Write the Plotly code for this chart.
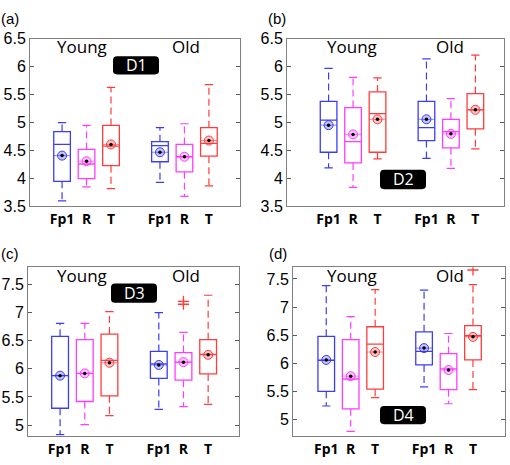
import plotly.graph_objects as go

# ---------------- data ----------------
POS = [1, 2, 3, 5, 6, 7]
CHANNELS = ["Fp1", "R", "T", "Fp1", "R", "T"]
GROUPS = ["Young", "Old"]
PANEL_LETTERS = ["(a)", "(b)", "(c)", "(d)"]
PANEL_TAGS = ["D1", "D2", "D3", "D4"]

D1_low = [3.60, 3.85, 3.82, 3.93, 3.68, 3.87]
D1_q1 = [3.95, 4.00, 4.23, 4.30, 4.12, 4.40]
D1_med = [4.61, 4.26, 4.58, 4.59, 4.39, 4.63]
D1_q3 = [4.84, 4.52, 4.95, 4.66, 4.61, 4.91]
D1_high = [5.00, 4.95, 5.63, 4.91, 4.98, 5.68]
D1_mean = [4.41, 4.31, 4.61, 4.47, 4.39, 4.68]
D1_out_x = []
D1_out_y = []

D2_low = [4.19, 3.84, 4.35, 4.36, 4.18, 4.53]
D2_q1 = [4.47, 4.28, 4.47, 4.68, 4.55, 4.89]
D2_med = [5.045, 4.66, 5.16, 4.91, 4.84, 5.23]
D2_q3 = [5.38, 5.27, 5.55, 5.38, 5.06, 5.52]
D2_high = [5.97, 5.81, 5.80, 6.14, 5.43, 6.21]
D2_mean = [4.955, 4.79, 5.06, 5.06, 4.80, 5.23]
D2_out_x = []
D2_out_y = []

D3_low = [4.83, 5.01, 5.17, 5.28, 5.33, 5.37]
D3_q1 = [5.30, 5.42, 5.52, 5.83, 5.80, 5.91]
D3_med = [5.88, 5.92, 6.15, 6.09, 6.12, 6.26]
D3_q3 = [6.58, 6.52, 6.62, 6.31, 6.29, 6.52]
D3_high = [6.81, 6.81, 7.02, 7.00, 6.65, 7.31]
D3_mean = [5.88, 5.92, 6.11, 6.07, 6.12, 6.25]
D3_out_x = [6, 6]
D3_out_y = [7.20, 7.15]

D4_low = [5.24, 4.79, 5.39, 5.58, 5.28, 5.53]
D4_q1 = [5.50, 5.19, 5.54, 5.97, 5.53, 6.06]
D4_med = [6.05, 5.72, 6.34, 6.21, 5.90, 6.49]
D4_q3 = [6.48, 6.42, 6.65, 6.56, 6.17, 6.67]
D4_high = [7.38, 6.83, 7.31, 7.30, 6.53, 7.40]
D4_mean = [6.06, 5.77, 6.20, 6.27, 5.88, 6.47]
D4_out_x = [7]
D4_out_y = [7.66]

Y_TICKS_TOP = [3.5, 4, 4.5, 5, 5.5, 6, 6.5]
Y_TICKS_BOTTOM = [5, 5.5, 6, 6.5, 7, 7.5]

# ---------------- styles ----------------
W, H = 510, 465
COLORS = {"Fp1": "rgb(60,60,245)", "R": "rgb(255,60,255)", "T": "rgb(255,60,60)"}
FILLS = {"Fp1": "rgba(60,60,245,0.3)", "R": "rgba(255,60,255,0.3)", "T": "rgba(255,60,60,0.3)"}
BOX_W = 0.68
CAP_W = 0.34

panels = [
    dict(low=D1_low, q1=D1_q1, med=D1_med, q3=D1_q3, high=D1_high, mean=D1_mean,
         ox=D1_out_x, oy=D1_out_y, px=(30, 240), py=(32, 206), xr=[-0.31, 8.27], yr=[3.5, 6.5],
         yt=Y_TICKS_TOP, tag_box=(113, 159, 50, 69), young_x=82, old_x=186, txt_y=40, letter=(10, 11)),
    dict(low=D2_low, q1=D2_q1, med=D2_med, q3=D2_q3, high=D2_high, mean=D2_mean,
         ox=D2_out_x, oy=D2_out_y, px=(287, 504), py=(32, 206), xr=[-0.70, 8.17], yr=[3.5, 6.5],
         yt=Y_TICKS_TOP, tag_box=(380, 426, 168, 188), young_x=352, old_x=450, txt_y=40, letter=(277, 11)),
    dict(low=D3_low, q1=D3_q1, med=D3_med, q3=D3_q3, high=D3_high, mean=D3_mean,
         ox=D3_out_x, oy=D3_out_y, px=(28, 239), py=(269, 444), xr=[-0.30, 8.25], yr=[4.81, 7.81],
         yt=Y_TICKS_BOTTOM, tag_box=(111, 157, 286, 306), young_x=82, old_x=186, txt_y=278, letter=(10, 255)),
    dict(low=D4_low, q1=D4_q1, med=D4_med, q3=D4_q3, high=D4_high, mean=D4_mean,
         ox=D4_out_x, oy=D4_out_y, px=(293, 505), py=(269, 444), xr=[-0.36, 8.31], yr=[4.71, 7.71],
         yt=Y_TICKS_BOTTOM, tag_box=(380, 426, 413, 432), young_x=352, old_x=450, txt_y=278, letter=(278, 255)),
]

fig = go.Figure()
layout = dict(
    width=W, height=H, margin=dict(l=0, r=0, t=0, b=0),
    paper_bgcolor="white", plot_bgcolor="white", showlegend=False,
    boxmode="overlay",
)
annotations = []
shapes = []

def fx(p):
    return p / W

def fy(p):
    return 1 - p / H

def rounded_rect(x0, x1, y0, y1, r):
    X0, X1 = fx(x0), fx(x1)
    Y0, Y1 = fy(y1), fy(y0)
    rx, ry = r / W, r / H
    return (f"M{X0+rx},{Y0} L{X1-rx},{Y0} Q{X1},{Y0} {X1},{Y0+ry} L{X1},{Y1-ry} "
            f"Q{X1},{Y1} {X1-rx},{Y1} L{X0+rx},{Y1} Q{X0},{Y1} {X0},{Y1-ry} "
            f"L{X0},{Y0+ry} Q{X0},{Y0} {X0+rx},{Y0} Z")

for k, p in enumerate(panels):
    n = "" if k == 0 else str(k + 1)
    xa, ya = "x" + n, "y" + n
    for ch in ["Fp1", "R", "T"]:
        idx = [i for i, c in enumerate(CHANNELS) if c == ch]
        xs = [POS[i] for i in idx]
        col = COLORS[ch]
        fig.add_trace(go.Box(
            x=xs, q1=[p["q1"][i] for i in idx], median=[p["med"][i] for i in idx],
            q3=[p["q3"][i] for i in idx], lowerfence=[p["q1"][i] for i in idx],
            upperfence=[p["q3"][i] for i in idx], width=BOX_W,
            line=dict(color=col, width=1.3), fillcolor="rgba(255,255,255,0)",
            boxpoints=False, xaxis=xa, yaxis=ya, hoverinfo="skip"))
        wx, wy = [], []
        for i in idx:
            wx += [POS[i], POS[i], None, POS[i], POS[i], None]
            wy += [p["q3"][i], p["high"][i], None, p["q1"][i], p["low"][i], None]
        fig.add_trace(go.Scatter(x=wx, y=wy, mode="lines", line=dict(color=col, width=1.2, dash="7px,4px"),
                                 xaxis=xa, yaxis=ya, hoverinfo="skip"))
        cx, cy = [], []
        for i in idx:
            for v in (p["high"][i], p["low"][i]):
                cx += [POS[i] - CAP_W / 2, POS[i] + CAP_W / 2, None]
                cy += [v, v, None]
        fig.add_trace(go.Scatter(x=cx, y=cy, mode="lines", line=dict(color=col, width=1.2),
                                 xaxis=xa, yaxis=ya, hoverinfo="skip"))
        mx, my = [], []
        for i in idx:
            mx += [POS[i] - BOX_W / 2, POS[i] + BOX_W / 2, None]
            my += [p["mean"][i], p["mean"][i], None]
        fig.add_trace(go.Scatter(x=mx, y=my, mode="lines", line=dict(color=col, width=1), opacity=0.6,
                                 xaxis=xa, yaxis=ya, hoverinfo="skip"))
        fig.add_trace(go.Scatter(x=xs, y=[p["mean"][i] for i in idx], mode="markers",
                                 marker=dict(symbol="circle", size=9, color=FILLS[ch],
                                             line=dict(color=col, width=1)),
                                 xaxis=xa, yaxis=ya, hoverinfo="skip"))
        fig.add_trace(go.Scatter(x=xs, y=[p["mean"][i] for i in idx], mode="markers",
                                 marker=dict(symbol="circle", size=3.5, color="black"),
                                 xaxis=xa, yaxis=ya, hoverinfo="skip"))
    if p["ox"]:
        fig.add_trace(go.Scatter(x=p["ox"], y=p["oy"], mode="markers",
                                 marker=dict(symbol="cross-thin", size=8,
                                             line=dict(color="rgb(255,60,60)", width=1.3)),
                                 xaxis=xa, yaxis=ya, hoverinfo="skip"))

    layout["xaxis" + n] = dict(
        domain=[fx(p["px"][0]), fx(p["px"][1])], range=p["xr"], anchor=ya,
        tickvals=POS, ticktext=CHANNELS, ticks="", ticklen=0, showgrid=False, zeroline=False,
        showline=True, linecolor="rgb(128,128,128)", linewidth=1, mirror=True,
        tickfont=dict(family="Open Sans", size=14, color="black", weight="bold"))
    layout["yaxis" + n] = dict(
        domain=[fy(p["py"][1]), fy(p["py"][0])], range=p["yr"], anchor=xa,
        tickvals=p["yt"], ticks="inside", ticklen=4, tickcolor="rgb(90,90,90)",
        showgrid=False, zeroline=False,
        showline=True, linecolor="rgb(128,128,128)", linewidth=1, mirror="ticks",
        tickfont=dict(family="Liberation Sans", size=16, color="black"))

    annotations.append(dict(x=fx(p["young_x"]), y=fy(p["txt_y"]), xref="paper", yref="paper",
                            text=GROUPS[0], showarrow=False, xanchor="center", yanchor="middle",
                            font=dict(family="Open Sans", size=17, color="black")))
    annotations.append(dict(x=fx(p["old_x"]), y=fy(p["txt_y"]), xref="paper", yref="paper",
                            text=GROUPS[1], showarrow=False, xanchor="center", yanchor="middle",
                            font=dict(family="Open Sans", size=17, color="black")))
    tb = p["tag_box"]
    shapes.append(dict(type="path", xref="paper", yref="paper",
                       path=rounded_rect(tb[0], tb[1], tb[2], tb[3], 4),
                       fillcolor="black", line=dict(width=0)))
    annotations.append(dict(x=fx((tb[0] + tb[1]) / 2), y=fy((tb[2] + tb[3]) / 2), xref="paper", yref="paper",
                            text=PANEL_TAGS[k], showarrow=False, xanchor="center", yanchor="middle",
                            font=dict(family="Open Sans", size=16, color="white")))
    annotations.append(dict(x=fx(p["letter"][0]), y=fy(p["letter"][1]), xref="paper", yref="paper",
                            text=PANEL_LETTERS[k], showarrow=False, xanchor="center", yanchor="middle",
                            font=dict(family="Liberation Sans", size=15, color="black")))

layout["annotations"] = annotations
layout["shapes"] = shapes
fig.update_layout(**layout)
fig.write_html("out.html", config={"displayModeBar": False, "staticPlot": True},
               post_script="document.body.style.margin='0';document.body.style.overflow='hidden';")
